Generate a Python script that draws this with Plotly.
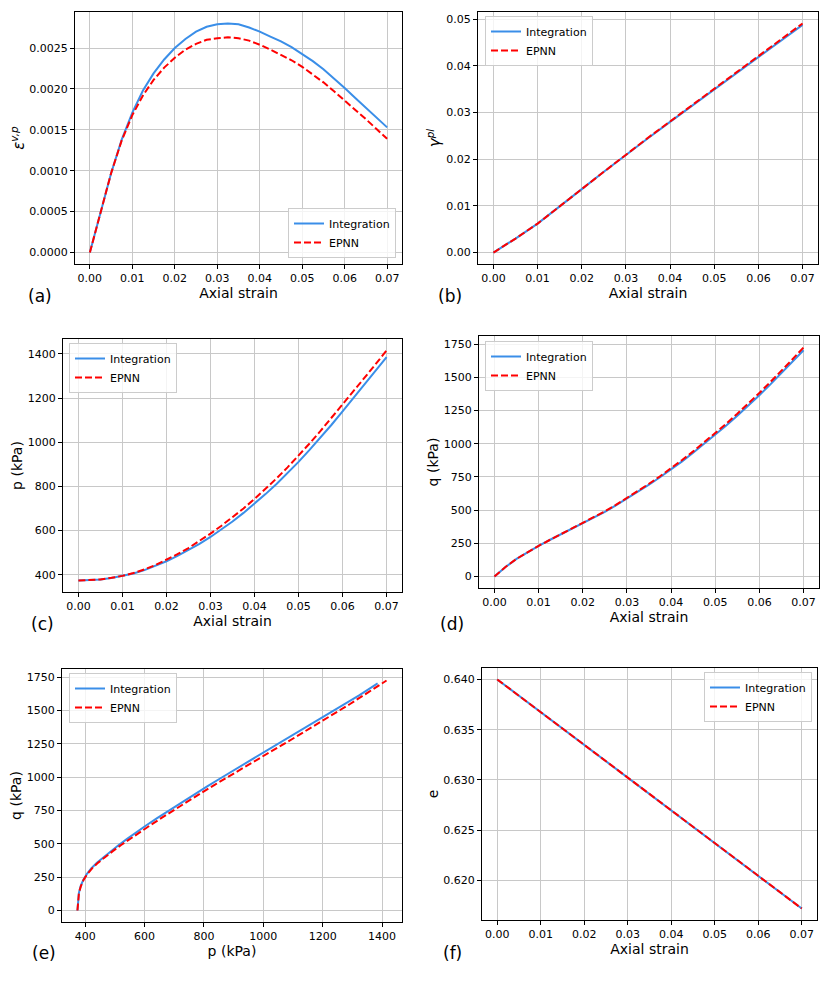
import plotly.graph_objects as go

# ---------------- data ----------------
strain_fine = [0.0, 0.0025, 0.005, 0.0075, 0.01, 0.0125, 0.015, 0.0175, 0.02, 0.0225,
               0.025, 0.0275, 0.03, 0.0325, 0.035, 0.0375, 0.04, 0.0425, 0.045, 0.0475,
               0.05, 0.0525, 0.055, 0.0575, 0.06, 0.0625, 0.065, 0.0675, 0.07]
evp_int = [0.0, 0.00050, 0.00097, 0.00138, 0.00171, 0.00198, 0.00219, 0.00236, 0.00250, 0.00261,
           0.00270, 0.00276, 0.00279, 0.00280, 0.00279, 0.00275, 0.00270, 0.00264, 0.00258, 0.00251,
           0.00243, 0.00234, 0.00224, 0.00213, 0.00201, 0.00189, 0.00177, 0.00165, 0.00153]
evp_nn = [0.0, 0.00050, 0.00097, 0.00137, 0.00168, 0.00192, 0.00211, 0.00226, 0.00238, 0.00248,
          0.00255, 0.00260, 0.00262, 0.00263, 0.00262, 0.00259, 0.00254, 0.00248, 0.00242, 0.00235,
          0.00227, 0.00218, 0.00208, 0.00197, 0.00186, 0.00175, 0.00163, 0.00151, 0.00139]
p_int = [374, 375.5, 379, 385, 394, 406, 421, 439.5, 461, 485, 511, 540, 571, 605, 641, 680, 721,
         765, 811, 860, 911, 965, 1021, 1079, 1139, 1200, 1263, 1324, 1385]
p_nn = [374, 375.5, 379, 386, 395, 408, 424, 444, 467, 493, 521, 552, 586, 622, 660, 700, 743,
        788, 836, 886, 939, 994, 1051, 1110, 1170, 1231, 1292, 1353, 1415]
q_int = [0, 72, 133, 185, 231, 275, 317, 358, 399, 442, 487, 535, 585, 637, 691, 747, 806,
         867, 931, 997, 1065, 1136, 1210, 1286, 1365, 1446, 1529, 1615, 1703]
q_nn = [0, 72, 133, 185, 231, 275, 318, 359, 401, 445, 491, 539, 590, 643, 698, 755, 815,
        877, 942, 1009, 1078, 1150, 1225, 1302, 1382, 1464, 1548, 1635, 1724]

strain = [0.0, 0.005, 0.01, 0.015, 0.02, 0.025, 0.03, 0.035, 0.04, 0.045, 0.05, 0.055, 0.06, 0.065, 0.07]
gpl_int = [0.0, 0.0030, 0.0062, 0.0098, 0.0136, 0.0173, 0.0210, 0.0245, 0.0280, 0.0315, 0.0350, 0.0385, 0.0420, 0.0455, 0.0488]
gpl_nn = [0.0, 0.0030, 0.0062, 0.0098, 0.0136, 0.0173, 0.0210, 0.0246, 0.0281, 0.0316, 0.0352, 0.0387, 0.0422, 0.0457, 0.0491]
e_int = [0.64000, 0.63837, 0.63674, 0.63511, 0.63349, 0.63186, 0.63023, 0.62860,
         0.62697, 0.62534, 0.62371, 0.62209, 0.62046, 0.61883, 0.61720]
e_nn = [0.64000, 0.63837, 0.63674, 0.63511, 0.63349, 0.63186, 0.63023, 0.62860,
        0.62697, 0.62534, 0.62371, 0.62209, 0.62046, 0.61883, 0.61720]

strain_ticks = [0.0, 0.01, 0.02, 0.03, 0.04, 0.05, 0.06, 0.07]
evp_ticks = [0.0, 0.0005, 0.001, 0.0015, 0.002, 0.0025]
gpl_ticks = [0.0, 0.01, 0.02, 0.03, 0.04, 0.05]
p_ticks = [400, 600, 800, 1000, 1200, 1400]
q_ticks = [0, 250, 500, 750, 1000, 1250, 1500, 1750]
e_ticks = [0.620, 0.625, 0.630, 0.635, 0.640]

# page body adds an 8px offset; the figure is sized to fill the rest of the window
OFF = 8
W, H = 830 - OFF, 988 - OFF
BLUE = "#3a8ee8"
RED = "#ff0000"
FONT = "DejaVu Sans"


def rng(*arrs):
    lo = min(min(a) for a in arrs)
    hi = max(max(a) for a in arrs)
    pad = (hi - lo) * 0.05
    return [lo - pad, hi + pad]


def fx(px):
    return (px - OFF) / W


def fy(py):
    return 1 - (py - OFF) / H


panels = [
    dict(xi=strain_fine, xn=strain_fine, yi=evp_int, yn=evp_nn, xd=(75, 402), yd=(12, 264),
         xt=strain_ticks, xf=".2f", yt=evp_ticks, yf=".4f", xtitle="Axial strain",
         ytitle="<i>ε</i><sup><i>v,p</i></sup>", ysz=15, leg=(396, 258, "right", "bottom")),
    dict(xi=strain, xn=strain, yi=gpl_int, yn=gpl_nn, xd=(478, 818), yd=(12, 264),
         xt=strain_ticks, xf=".2f", yt=gpl_ticks, yf=".2f", xtitle="Axial strain",
         ytitle="<i>γ</i><sup><i>pl</i></sup>", ysz=15, leg=(485, 16, "left", "top")),
    dict(xi=strain_fine, xn=strain_fine, yi=p_int, yn=p_nn, xd=(63, 402), yd=(339, 592),
         xt=strain_ticks, xf=".2f", yt=p_ticks, yf="d", xtitle="Axial strain",
         ytitle="p (kPa)", ysz=14, leg=(69, 343, "left", "top")),
    dict(xi=strain_fine, xn=strain_fine, yi=q_int, yn=q_nn, xd=(479, 819), yd=(336, 588),
         xt=strain_ticks, xf=".2f", yt=q_ticks, yf="d", xtitle="Axial strain",
         ytitle="q (kPa)", ysz=14, leg=(485, 341, "left", "top")),
    dict(xi=p_int, xn=p_nn, yi=q_int, yn=q_nn, xd=(62, 402), yd=(669, 922),
         xt=p_ticks, xf="d", yt=q_ticks, yf="d", xtitle="p (kPa)",
         ytitle="q (kPa)", ysz=14, leg=(69, 673, "left", "top")),
    dict(xi=strain, xn=strain, yi=e_int, yn=e_nn, xd=(482, 817), yd=(668, 920),
         xt=strain_ticks, xf=".2f", yt=e_ticks, yf=".3f", xtitle="Axial strain",
         ytitle="e", ysz=14, leg=(812, 672, "right", "top")),
]

labels = [("(a)", 40, 296), ("(b)", 450, 296), ("(c)", 42, 624), ("(d)", 452, 624),
          ("(e)", 44, 953), ("(f)", 452, 953)]

fig = go.Figure()
layout = dict(width=W, height=H, margin=dict(l=0, r=0, t=0, b=0),
              paper_bgcolor="white", plot_bgcolor="white",
              font=dict(family=FONT, size=11, color="black"), annotations=[])

for i, pn in enumerate(panels):
    n = i + 1
    sfx = "" if n == 1 else str(n)
    xa, ya = "x" + sfx, "y" + sfx
    lg = "legend" + sfx
    fig.add_trace(go.Scatter(x=pn["xi"], y=pn["yi"], mode="lines", name="Integration",
                             line=dict(color=BLUE, width=2),
                             xaxis=xa, yaxis=ya, legend=lg, showlegend=True))
    fig.add_trace(go.Scatter(x=pn["xn"], y=pn["yn"], mode="lines", name="EPNN",
                             line=dict(color=RED, width=2, dash="7px,3px"),
                             xaxis=xa, yaxis=ya, legend=lg, showlegend=True))
    common = dict(showline=True, linecolor="black", linewidth=1.2, mirror=True,
                  ticks="outside", ticklen=4, tickwidth=1, tickcolor="black",
                  showgrid=True, gridcolor="#c8c8c8", gridwidth=1, zeroline=False,
                  tickfont=dict(family=FONT, size=11, color="black"))
    layout["xaxis" + sfx] = dict(common, domain=[fx(pn["xd"][0]), fx(pn["xd"][1])], anchor=ya,
                                 range=rng(pn["xi"], pn["xn"]), tickmode="array",
                                 tickvals=pn["xt"], tickformat=pn["xf"],
                                 title=dict(text=pn["xtitle"], font=dict(family=FONT, size=14), standoff=0))
    layout["yaxis" + sfx] = dict(common, domain=[fy(pn["yd"][1]), fy(pn["yd"][0])], anchor=xa,
                                 range=rng(pn["yi"], pn["yn"]), tickmode="array",
                                 tickvals=pn["yt"], tickformat=pn["yf"],
                                 title=dict(text=pn["ytitle"], font=dict(family=FONT, size=pn["ysz"]), standoff=1))
    lx, ly, xanc, yanc = pn["leg"]
    layout[lg] = dict(x=fx(lx), y=fy(ly), xanchor=xanc, yanchor=yanc,
                      bgcolor="rgba(255,255,255,0.8)", bordercolor="#cccccc", borderwidth=1,
                      font=dict(family=FONT, size=11, color="black"), tracegroupgap=0,
                      itemwidth=30)

for txt, x, y in labels:
    layout["annotations"].append(dict(text=txt, x=fx(x), y=fy(y), xref="paper", yref="paper",
                                      showarrow=False, xanchor="center", yanchor="middle",
                                      font=dict(family=FONT, size=17, color="black")))

fig.update_layout(**layout)
fig.write_html("out.html")
